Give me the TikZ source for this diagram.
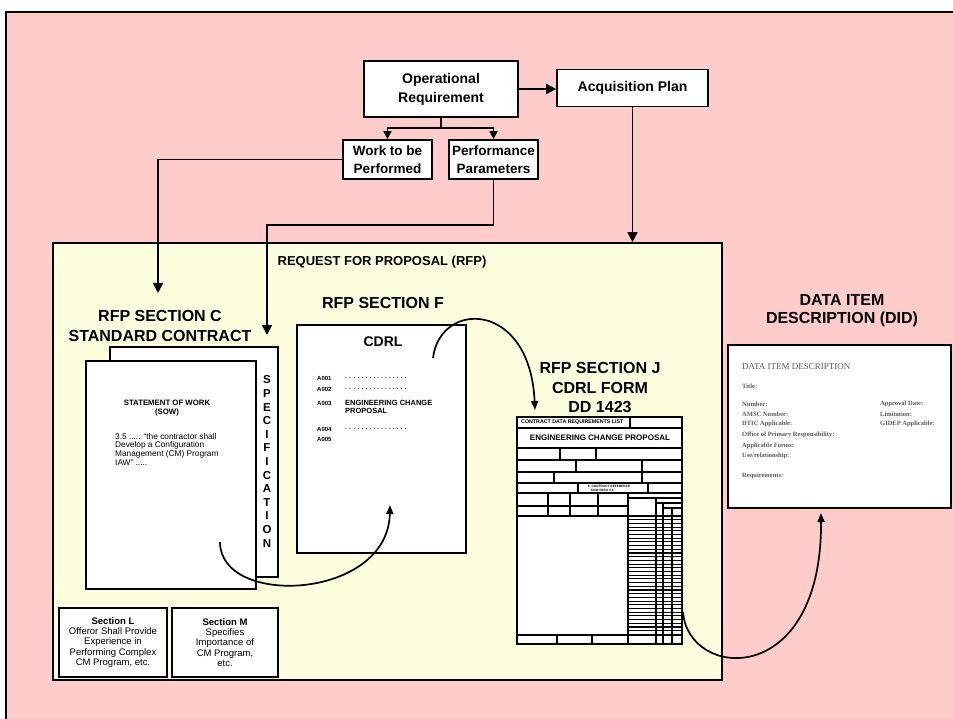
\documentclass[tikz,border=0pt]{standalone}
\usepackage{fontspec}
\setmainfont{Liberation Sans}
\newfontfamily\didfont{Liberation Serif}
\usetikzlibrary{arrows.meta,positioning}
\definecolor{fundo}{HTML}{FFCCCC}
\definecolor{rfpfill}{HTML}{FFFFE0}
\definecolor{didink}{HTML}{5A5A5A}

\begin{document}
\begin{tikzpicture}[x=1pt,y=-1pt,
  box/.style={draw, line width=1.7pt, fill=white, align=center, inner sep=0pt, font=\fontsize{14}{19}\selectfont\bfseries},
  smallbox/.style={draw, line width=1.7pt, fill=white, align=center, inner sep=0pt, font=\fontsize{13.5}{17.5}\selectfont\bfseries},
  page/.style={draw, line width=1.7pt, fill=white, inner sep=0pt},
  sectitle/.style={align=center, font=\fontsize{16}{19.5}\selectfont\bfseries},
  item/.style={anchor=west, inner sep=0pt, font=\fontsize{6}{7.5}\selectfont\bfseries},
  didtxt/.style={anchor=west, inner sep=0pt, text=didink, font=\didfont\fontsize{6.5}{7}\selectfont\bfseries},
  note/.style={draw, line width=2pt, fill=white, inner sep=0pt, align=center, font=\fontsize{9.5}{10.4}\selectfont},
  formline/.style={line width=1.3pt},
  arr/.style={line width=1.6pt, -{Triangle[length=10pt,width=10pt]}},
  arrs/.style={line width=1.6pt, -{Triangle[length=8pt,width=8pt]}},
  hand/.style={line width=1.7pt, -{Triangle[length=9pt,width=7pt]}}]
\useasboundingbox (0,0) rectangle (953,719);
% fundo
\fill[white] (0,0) rectangle (953,719);
\filldraw[fill=fundo, line width=2.5pt] (6,12) rectangle (980,740);
% request for proposal
\node[draw, line width=1.7pt, fill=rfpfill, minimum width=669pt, minimum height=437pt, inner sep=0pt] (rfp) at (387.5,461.5) {};
\node[font=\fontsize{13}{15}\selectfont\bfseries] (rfptitle) at (382,262) {REQUEST FOR PROPOSAL (RFP)};
% top boxes
\node[box, minimum width=154pt, minimum height=56pt] (opreq) at (441,89) {Operational\\Requirement};
\node[box, minimum width=151pt, minimum height=37pt] (acq) at (632.5,88) {Acquisition Plan};
\node[smallbox, minimum width=89pt, minimum height=39pt] (work) at (387.5,159.5) {Work to be\\Performed};
\node[smallbox, minimum width=89pt, minimum height=39pt] (perf) at (493.5,159.5) {Performance\\Parameters};
% section C
\node[sectitle] (secC) at (160,326) {RFP SECTION C\\STANDARD CONTRACT};
\node[page, minimum width=168pt, minimum height=230pt] (spec) at (194,462) {};
\node[page, minimum width=170pt, minimum height=228pt] (sow) at (171,475) {};
\foreach \ch [count=\i from 0] in {S,P,E,C,I,F,I,C,A,T,I,O,N}
  \node[font=\fontsize{11.5}{11.5}\selectfont\bfseries, inner sep=0pt] (spec\i) at (267,380+13.6*\i) {\ch};
\node[font=\fontsize{7.8}{8.5}\selectfont\bfseries, align=center, inner sep=0pt] (sowtitle) at (167,408) {STATEMENT OF WORK\\(SOW)};
\node[font=\fontsize{8.3}{8.6}\selectfont, align=left, anchor=north west, inner sep=0pt] (sowtext) at (115,433) {3.5 ..... “the contractor shall\\Develop a Configuration\\Management (CM) Program\\IAW” .....};
% section F
\node[sectitle] (secF) at (383,303) {RFP SECTION F};
\node[page, minimum width=169pt, minimum height=228pt] (cdrl) at (381.5,439) {};
\node[font=\fontsize{14}{14}\selectfont\bfseries] (cdrltitle) at (383,342) {CDRL};
\foreach \y/\code in {378/A001,389/A002,403/A003,429/A004,439/A005}
  \node[item] (\code) at (317,\y) {\code};
\foreach \y in {378,389,429}
  \node[item] (dots\y) at (345,\y) {. .\ \ . . . . . . . . . . . . . .};
\node[item, font=\fontsize{7.5}{8}\selectfont\bfseries, align=left] (ecp) at (345,407) {ENGINEERING CHANGE\\PROPOSAL};
% section J
\node[sectitle] (secJ) at (600,388) {RFP SECTION J\\CDRL FORM\\DD 1423};
\node[page, minimum width=165pt, minimum height=227pt] (form) at (599.5,530.5) {};
\foreach \y in {428,448,460,472,483,493,635} \draw[formline] (517,\y) -- (682,\y);
\draw[formline] (517,506) -- (628,506) (517,516) -- (628,516);
\foreach \x/\ya/\yb in {630/417/428, 560/448/460, 596/448/460, 576/460/472, 642/460/472, 554/472/483, 642/472/483, 578/483/493, 648/483/493, 548/493/516, 570/493/516, 598/493/516, 628/493/644, 557/635/644, 592/635/644, 656/498/644, 663/503/644, 672/508/644}
  \draw[formline] (\x,\ya) -- (\x,\yb);
\draw[formline] (628,498) -- (682,498) (656,503) -- (682,503) (663,508) -- (682,508);
\foreach \k in {0,...,31} \draw[line width=1.1pt] (628,516+3.7*\k) -- (682,516+3.7*\k);
\node[font=\fontsize{5.3}{6}\selectfont\bfseries, anchor=west, inner sep=0pt] (cdrlhead) at (521,422.5) {CONTRACT DATA REQUIREMENTS LIST};
\node[font=\fontsize{8}{8}\selectfont\bfseries, inner sep=0pt] (ecpform) at (600,438) {ENGINEERING CHANGE PROPOSAL};
\node[font=\fontsize{3.2}{3.8}\selectfont\bfseries, align=left, inner sep=0pt] (ref8) at (609,488) {8. CONTRACT REFERENCE\\\quad SOW PARA 3.5};
% data item description
\node[sectitle, font=\fontsize{16}{18}\selectfont\bfseries] (did) at (842,311) {DATA ITEM\\DESCRIPTION (DID)};
\node[page, minimum width=223pt, minimum height=163pt] (didpage) at (839.5,426.5) {};
\node[didtxt, font=\didfont\fontsize{9}{9}\selectfont] (didhead) at (742,367) {DATA ITEM DESCRIPTION};
\foreach \y/\t in {386/Title:,404/Number:,414/AMSC Number:,424/DTIC Applicable:,435/Office of Primary Responsibility:,446/Applicable Forms:,456/{Use/relationship:},476/Requirements:}
  \node[didtxt] (didl\y) at (742,\y) {\t};
\foreach \y/\t in {404/Approval Date:,414/Limitation:,424/GIDEP Applicable:}
  \node[didtxt] (didr\y) at (880,\y) {\t};
% sections L and M
\node[note, minimum width=108pt, minimum height=69pt] (secL) at (113,642.5) {\textbf{Section L}\\Offeror Shall Provide\\Experience in\\Performing Complex\\CM Program, etc.};
\node[note, minimum width=106pt, minimum height=69pt] (secM) at (225,642.5) {\textbf{Section M}\\Specifies\\Importance of\\CM Program,\\etc.};
% connectors
\coordinate (cin) at (158,293);
\coordinate (specin) at (267,335);
\draw[arr] (opreq.east) -- (opreq.east -| acq.west);
\draw[arrs] (opreq.south) -- ++(0,10) -| (work.north);
\draw[arrs] (opreq.south) -- ++(0,10) -| (perf.north);
\draw[arr] (work.west) -| (cin);
\draw[arr] (perf.south) -- ++(0,45) -| (specin);
\draw[arr] (acq.south) -- (acq.south |- rfp.north);
% hand drawn arrows
\coordinate (c1s) at (220,542); \coordinate (c1e) at (390,505);
\coordinate (c2s) at (433,358); \coordinate (c2e) at (535,410);
\coordinate (c3s) at (683,612); \coordinate (c3e) at (821,513);
\draw[hand] (c1s) .. controls (220,608) and (388,600) .. (c1e);
\draw[hand] (c2s) .. controls (440,300) and (530,300) .. (c2e);
\draw[hand] (c3s) .. controls (688,680) and (822,690) .. (c3e);
\end{tikzpicture}
\end{document}
